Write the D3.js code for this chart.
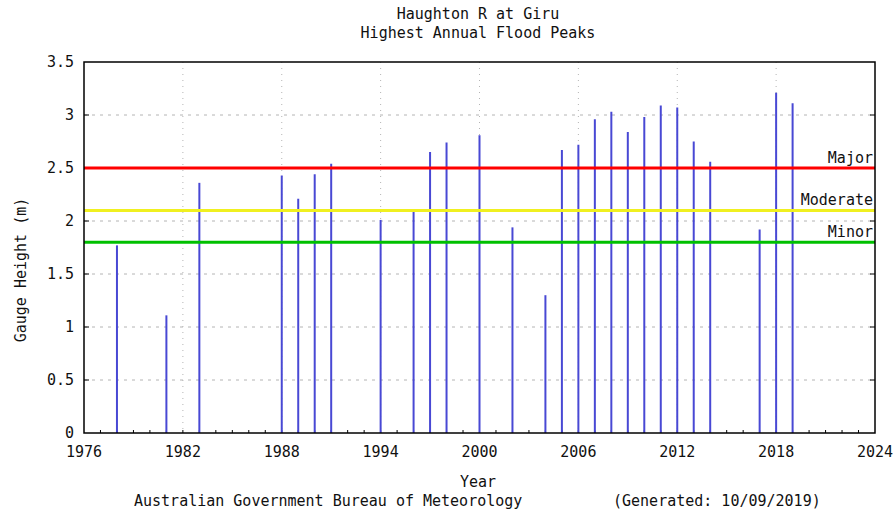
<!DOCTYPE html>
<html>
<head>
<meta charset="utf-8">
<script src="https://cdn.jsdelivr.net/npm/d3@7"></script>
<style>
  body { margin: 0; background: #fff; }
  text { font-family: "DejaVu Sans Mono", "Liberation Mono", monospace; fill: #111; font-size: 15px; }
</style>
</head>
<body>
<script>
// flood peak data
var years   = [1978, 1981, 1983, 1988, 1989, 1990, 1991, 1994, 1996, 1997, 1998, 2000, 2002, 2004,
               2005, 2006, 2007, 2008, 2009, 2010, 2011, 2012, 2013, 2014, 2017, 2018, 2019];
var heights = [1.77, 1.11, 2.36, 2.43, 2.21, 2.44, 2.54, 2.01, 2.11, 2.65, 2.74, 2.81, 1.94, 1.30,
               2.67, 2.72, 2.96, 3.03, 2.84, 2.98, 3.09, 3.07, 2.75, 2.56, 1.92, 3.21, 3.11];

// flood classification levels
var levelNames  = ["Major", "Moderate", "Minor"];
var levelValues = [2.5, 2.1, 1.8];
var levelColors = ["#ff0000", "#f0f020", "#00c000"];

var xTicks = [1976, 1982, 1988, 1994, 2000, 2006, 2012, 2018, 2024];
var yTicks = [0, 0.5, 1, 1.5, 2, 2.5, 3, 3.5];

var W = 893, H = 512;
var margin = {top: 62, right: 18, bottom: 79, left: 84};
var width  = W - margin.left - margin.right,
    height = H - margin.top - margin.bottom;

var svg = d3.select("body").append("svg")
  .attr("width", W)
  .attr("height", H);

var x = d3.scaleLinear().domain([1976, 2024]).range([0, width]);
var y = d3.scaleLinear().domain([0, 3.5]).range([height, 0]);

var g = svg.append("g").attr("transform", "translate(" + margin.left + "," + margin.top + ")");

// grid
g.append("g").selectAll("line")
  .data(yTicks.slice(1, -1))
  .enter().append("line")
  .attr("x1", 0).attr("x2", width)
  .attr("y1", d => y(d)).attr("y2", d => y(d))
  .attr("stroke", "#b4b4b4").attr("stroke-width", 1)
  .attr("stroke-dasharray", "3,5");

g.append("g").selectAll("line")
  .data(xTicks.slice(1, -1))
  .enter().append("line")
  .attr("x1", d => x(d)).attr("x2", d => x(d))
  .attr("y1", 0).attr("y2", height)
  .attr("stroke", "#b4b4b4").attr("stroke-width", 1)
  .attr("stroke-dasharray", "1,5");

// minor ticks on x axis (every year), inward
g.append("g").selectAll("line")
  .data(d3.range(1977, 2024))
  .enter().append("line")
  .attr("x1", d => x(d)).attr("x2", d => x(d))
  .attr("y1", height).attr("y2", height - 3)
  .attr("stroke", "#000");

// inward y ticks, both sides
g.append("g").selectAll("line")
  .data(yTicks.slice(1, -1))
  .enter().append("line")
  .attr("x1", 0).attr("x2", 5)
  .attr("y1", d => y(d)).attr("y2", d => y(d))
  .attr("stroke", "#000");
g.append("g").selectAll("line")
  .data(yTicks.slice(1, -1))
  .enter().append("line")
  .attr("x1", width - 5).attr("x2", width)
  .attr("y1", d => y(d)).attr("y2", d => y(d))
  .attr("stroke", "#000");

// peak bars
g.append("g").selectAll("line")
  .data(years)
  .enter().append("line")
  .attr("x1", d => x(d)).attr("x2", d => x(d))
  .attr("y1", y(0)).attr("y2", (d, i) => y(heights[i]))
  .attr("stroke", "#4848d4").attr("stroke-width", 2);

// level lines
g.append("g").selectAll("line")
  .data(levelValues)
  .enter().append("line")
  .attr("x1", 0).attr("x2", width)
  .attr("y1", d => y(d)).attr("y2", d => y(d))
  .attr("stroke", (d, i) => levelColors[i]).attr("stroke-width", 3);

g.append("g").selectAll("text")
  .data(levelNames)
  .enter().append("text")
  .attr("x", width - 2)
  .attr("y", (d, i) => y(levelValues[i]) - 5)
  .attr("text-anchor", "end")
  .text(d => d);

// border
g.append("rect")
  .attr("width", width).attr("height", height)
  .attr("fill", "none").attr("stroke", "#000").attr("stroke-width", 1.5);

// tick labels
g.append("g").selectAll("text")
  .data(yTicks)
  .enter().append("text")
  .attr("x", -10)
  .attr("y", d => y(d) + 5)
  .attr("text-anchor", "end")
  .text(d => d);

g.append("g").selectAll("text")
  .data(xTicks)
  .enter().append("text")
  .attr("x", d => x(d))
  .attr("y", height + 24)
  .attr("text-anchor", "middle")
  .text(d => d);

// titles
svg.append("text").attr("x", 478).attr("y", 19).attr("text-anchor", "middle")
  .text("Haughton R at Giru");
svg.append("text").attr("x", 478).attr("y", 38).attr("text-anchor", "middle")
  .text("Highest Annual Flood Peaks");

svg.append("text")
  .attr("transform", "translate(26,270) rotate(-90)")
  .attr("text-anchor", "middle")
  .text("Gauge Height (m)");

svg.append("text").attr("x", 478).attr("y", 487).attr("text-anchor", "middle")
  .text("Year");
svg.append("text").attr("x", 134).attr("y", 506)
  .text("Australian Government Bureau of Meteorology");
svg.append("text").attr("x", 613).attr("y", 506)
  .text("(Generated: 10/09/2019)");
</script>
</body>
</html>
